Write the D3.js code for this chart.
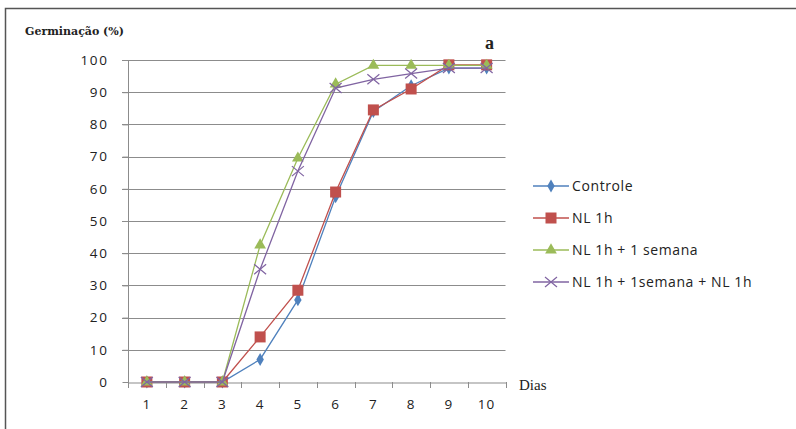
<!DOCTYPE html>
<html><head><meta charset="utf-8">
<script src="https://cdn.jsdelivr.net/npm/d3@7/dist/d3.min.js"></script>
<style>body{margin:0;background:#fff}svg{display:block}</style>
</head><body>
<svg id="c" width="796" height="429"></svg>
<script>
const days = ["1","2","3","4","5","6","7","8","9","10"];
const yTicks = [0,10,20,30,40,50,60,70,80,90,100];
const seriesNames = ["Controle","NL 1h","NL 1h + 1 semana","NL 1h + 1semana + NL 1h"];
const controle = [0,0,0,7,25.5,57.5,84,92,97.5,97.5];
const nl1h = [0,0,0,14,28.5,59,84.5,91,98.5,98.5];
const nl1hSemana = [0,0,0,42.5,69.5,92.5,98.3,98.3,98.3,98.3];
const nl1hSemanaNl1h = [0,0,0,35,65.5,91.3,94,95.8,97.5,97.5];
const colors = ["#4F81BD","#C0504D","#9BBB59","#8064A2"];
const markers = ["diamond","square","triangle","x"];

const svg = d3.select("#c");
svg.append("rect").attr("x",5.5).attr("y",8.5).attr("width",800).attr("height",430)
  .attr("fill","none").attr("stroke","#555").attr("stroke-width",1.5);

const x = d3.scaleBand().domain(days).range([128,505.5]);
const y = d3.scaleLinear().domain([0,100]).range([382,60]);
const tickFont = "'Open Sans', sans-serif";

// gridlines
svg.append("g").selectAll("line").data(yTicks.filter(d=>d>0)).join("line")
  .attr("x1",122).attr("x2",505.5).attr("y1",d=>Math.round(y(d))+0.5).attr("y2",d=>Math.round(y(d))+0.5)
  .attr("stroke","#8c8c8c").attr("stroke-width",1.2);

// y axis
const ya = svg.append("g").attr("transform","translate(128.5,0)")
  .call(d3.axisLeft(y).tickValues(yTicks).tickSize(6).tickPadding(14));
ya.select(".domain").attr("stroke","#8c8c8c").attr("d","M0,"+y(100)+"V"+(y(0)+6));
ya.selectAll(".tick line").attr("stroke","#8c8c8c");
ya.selectAll("text").attr("font-family",tickFont).attr("font-size",13.5).attr("letter-spacing","1.6px").attr("fill","#222");

// x axis
const xa = svg.append("g").attr("transform","translate(0,"+(Math.round(y(0))+0.5)+")")
  .call(d3.axisBottom(x).tickSizeOuter(0).tickSize(0).tickPadding(17));
xa.select(".domain").attr("stroke","#8c8c8c").attr("stroke-width",1.2);
xa.selectAll(".tick line").remove();
xa.selectAll("text").attr("font-family",tickFont).attr("font-size",13.5).attr("letter-spacing","1.2px").attr("fill","#222");
// x tick marks at band boundaries
svg.append("g").selectAll("line").data(days.concat(["end"])).join("line")
  .attr("x1",(d,i)=>Math.round(i<days.length?x(d):x.range()[1])+0.5)
  .attr("x2",(d,i)=>Math.round(i<days.length?x(d):x.range()[1])+0.5)
  .attr("y1",y(0)).attr("y2",y(0)+6).attr("stroke","#8c8c8c");

// labels
svg.append("text").attr("x",25).attr("y",35).text("Germinação (%)")
  .attr("font-family","'DejaVu Serif', serif").attr("font-size",11).attr("font-weight","bold").attr("fill","#222");
svg.append("text").attr("x",519).attr("y",390).text("Dias")
  .attr("font-family","'Liberation Serif', serif").attr("font-size",15).attr("fill","#222");
svg.append("text").attr("x",485).attr("y",49).text("a")
  .attr("font-family","'Liberation Serif', serif").attr("font-size",18).attr("font-weight","bold").attr("fill","#222");

const data = [controle,nl1h,nl1hSemana,nl1hSemanaNl1h];
const cx = d=>x(d)+x.bandwidth()/2;
const line = d3.line().x((v,i)=>cx(days[i])).y(v=>y(v));

function drawMarker(g, type, px, py, color){
  if(type==="diamond"){
    g.append("path").attr("d",d3.symbol(d3.symbolDiamond,48)()).attr("transform",`translate(${px},${py})`).attr("fill",color);
  } else if(type==="square"){
    g.append("rect").attr("x",px-5.5).attr("y",py-5.5).attr("width",11).attr("height",11).attr("fill",color);
  } else if(type==="triangle"){
    g.append("path").attr("d",d3.symbol(d3.symbolTriangle,60)()).attr("transform",`translate(${px},${py})`).attr("fill",color);
  } else {
    g.append("path").attr("d",`M${px-6},${py-5}L${px+6},${py+5}M${px-6},${py+5}L${px+6},${py-5}`).attr("stroke",color).attr("stroke-width",1.2).attr("fill","none");
  }
}

data.forEach((vals,s)=>{
  const g = svg.append("g");
  g.append("path").datum(vals).attr("d",line).attr("fill","none").attr("stroke",colors[s]).attr("stroke-width",1.3);
  vals.forEach((v,i)=>drawMarker(g,markers[s],cx(days[i]),y(v),colors[s]));
});

// legend
const lg = svg.append("g");
seriesNames.forEach((n,s)=>{
  const ly = 186 + s*32;
  lg.append("line").attr("x1",533).attr("x2",569).attr("y1",ly).attr("y2",ly).attr("stroke",colors[s]).attr("stroke-width",1.3);
  drawMarker(lg,markers[s],551,ly,colors[s]);
  lg.append("text").attr("x",572).attr("y",ly+5).text(n)
    .attr("font-family",tickFont).attr("font-size",14).attr("letter-spacing","0.6px").attr("fill","#222");
});
</script>
</body></html>
